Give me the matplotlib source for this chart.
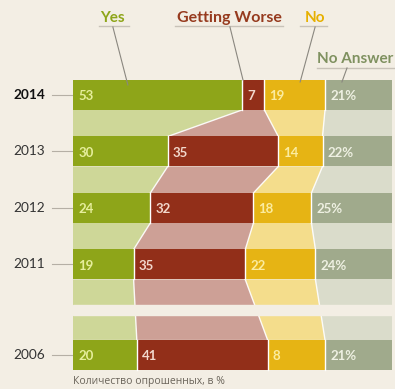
import matplotlib
matplotlib.use('Agg')
import matplotlib.pyplot as plt
import numpy as np
from matplotlib.patches import Polygon

# ---------------- data ----------------
years = ['2014', '2013', '2012', '2011', '2006']
yes = [53, 30, 24, 19, 20]
worse = [7, 35, 32, 35, 41]
no = [19, 14, 18, 22, 18]           # width as drawn
no_text = ['19', '14', '18', '22', '8']  # as printed on the chart
no_answer = [21, 22, 25, 24, 21]
categories = ['Yes', 'Getting Worse', 'No', 'No Answer']
footer = 'Количество опрошенных, в %'

# ---------------- style ----------------
bg = '#f3eee4'
dark = ['#8ea519', '#922f19', '#e6b414', '#a0aa8c']
light = ['#ced798', '#cda096', '#f4dd8c', '#dadccb']
label_col = ['#e6ee9c', '#f2d8cc', '#fbeca0', '#eef0e2']
title_col = ['#8ea519', '#963a1e', '#e6b000', '#7f9160']
fam = ['Lato', 'DejaVu Sans']

fig = plt.figure(figsize=(3.95, 3.89), dpi=100, facecolor=bg)
ax = fig.add_axes([73 / 395, 0, 319 / 395, 1])
ax.set_facecolor(bg)
ax.set_xlim(0, 100)
ax.set_ylim(5.204, -1.681)
ax.axis('off')

vals = np.array([yes, worse, no, no_answer], dtype=float).T  # rows x cats
vals = vals / vals.sum(axis=1, keepdims=True) * 100
cum = np.hstack([np.zeros((len(years), 1)), np.cumsum(vals, axis=1)])

pos = np.arange(len(years), dtype=float)
pos[4:] += 0.6
h = 0.531

# connectors
for i in range(len(years) - 1):
    yt = pos[i] + h / 2
    yb = pos[i + 1] - h / 2
    for c in range(4):
        poly = Polygon([(cum[i, c], yt), (cum[i, c + 1], yt),
                        (cum[i + 1, c + 1], yb), (cum[i + 1, c], yb)],
                       closed=True, facecolor=light[c], edgecolor='none', zorder=1)
        ax.add_patch(poly)
    for k in range(1, 4):
        ax.plot([cum[i, k], cum[i + 1, k]], [yt, yb], color='white', lw=1.0,
                alpha=0.9, zorder=2)
# axis break strip between 2011 and 2006
mid = (pos[3] + pos[4]) / 2
ax.axhspan(mid - 0.088, mid + 0.088, color=bg, zorder=3)

# bars
for c in range(4):
    ax.barh(pos, vals[:, c], left=cum[:, c], height=h, color=dark[c],
            edgecolor='none', zorder=4)
for i in range(len(years)):
    for k in range(1, 4):
        ax.plot([cum[i, k]] * 2, [pos[i] - h / 2, pos[i] + h / 2], color='white',
                lw=1.0, zorder=5)

# value labels
texts = [[str(v) for v in yes], [str(v) for v in worse], no_text,
         [f'{v}%' for v in no_answer]]
for i in range(len(years)):
    for c in range(4):
        ax.text(cum[i, c] + 1.6, pos[i] + 0.02, texts[c][i], color=label_col[c],
                fontsize=9.5, fontweight='bold', family=fam, ha='left',
                va='center', zorder=6)

# year labels with tick lines
for i, yr in enumerate(years):
    ax.text(-8.8, pos[i], yr, ha='right', va='center', fontsize=9.8,
            fontweight='bold' if i == 0 else 'normal',
            color='#111111' if i == 0 else '#333333', family=fam, clip_on=False)
    ax.plot([-6.6, -0.3], [pos[i], pos[i]], color='#b5afa5', lw=0.8, clip_on=False)

# category titles with underlines and leader lines
tx = [12.5, 48.9, 75.9, 88.4]
ty = [-1.292, -1.292, -1.292, -0.566]
ul = [(8.2, 17.5), (32.0, 65.8), (71.2, 79.6), (76.5, 101)]
uy = [-1.221, -1.221, -1.221, -0.478]
lead = [((12.5, -1.204), (17.2, -0.177)),
        ((49.2, -1.204), (53.3, -0.265)),
        ((75.9, -1.204), (71.2, -0.23)),
        ((85.9, -0.478), (84.3, -0.23))]
tsize = [11, 11.5, 11, 11]
for c, name in enumerate(categories):
    ax.text(tx[c], ty[c], name, ha='center', va='baseline', fontsize=tsize[c],
            fontweight='bold', color=title_col[c], family=fam, clip_on=False)
    ax.plot(ul[c], [uy[c], uy[c]], color='#c8c2b8', lw=1.0, clip_on=False)
    (x0, y0), (x1, y1) = lead[c]
    ax.plot([x0, x1], [y0, y1], color='#8a877f', lw=0.8, zorder=7, clip_on=False)

ax.text(0, 5.12, footer, ha='left', va='baseline', fontsize=7.5,
        color='#6a645a', family=['Open Sans', 'DejaVu Sans'])

fig.savefig('out.png', dpi=100, facecolor=bg)
